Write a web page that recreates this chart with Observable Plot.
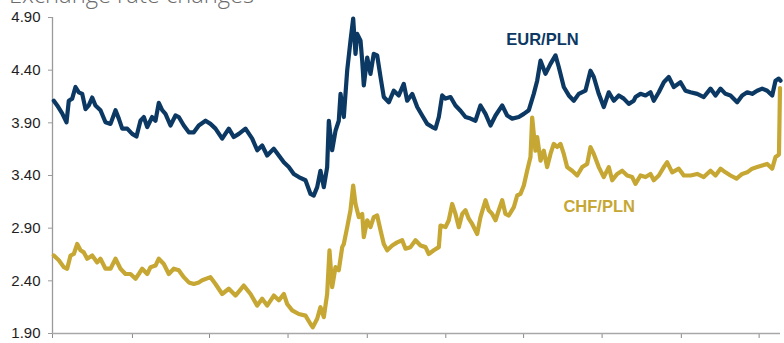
<!DOCTYPE html>
<html><head><meta charset="utf-8">
<script src="https://cdn.jsdelivr.net/npm/d3@7"></script>
<script src="https://cdn.jsdelivr.net/npm/@observablehq/plot@0.6"></script>
<style>
body{margin:0;background:#fff;}
#wrap{position:relative;width:784px;height:343px;overflow:hidden;background:#fff;}
#title{position:absolute;z-index:2;left:9px;top:-17.5px;font-family:"Open Sans",sans-serif;font-weight:300;font-size:23.7px;line-height:23.7px;color:#6b6b6b;white-space:nowrap;}
#chart{position:absolute;z-index:1;left:0;top:0;}
</style></head><body>
<div id="wrap"><div id="title">Exchange rate changes</div><div id="chart"></div></div>
<script>
const seriesNames = ["EUR/PLN", "CHF/PLN"];
const eurYears = [2005.018,2005.065,2005.133,2005.193,2005.224,2005.271,2005.316,2005.362,2005.409,2005.454,2005.499,2005.546,2005.591,2005.660,2005.729,2005.798,2005.867,2005.912,2005.959,2006.028,2006.096,2006.155,2006.210,2006.256,2006.303,2006.371,2006.417,2006.462,2006.509,2006.554,2006.623,2006.692,2006.737,2006.806,2006.875,2006.944,2007.012,2007.105,2007.173,2007.242,2007.334,2007.425,2007.494,2007.563,2007.655,2007.747,2007.816,2007.884,2007.953,2008.044,2008.113,2008.182,2008.250,2008.319,2008.388,2008.480,2008.549,2008.594,2008.641,2008.686,2008.732,2008.778,2008.801,2008.847,2008.893,2008.938,2008.962,2009.007,2009.054,2009.099,2009.136,2009.168,2009.191,2009.237,2009.260,2009.282,2009.329,2009.374,2009.419,2009.466,2009.512,2009.557,2009.626,2009.695,2009.763,2009.832,2009.879,2009.948,2010.017,2010.085,2010.154,2010.223,2010.268,2010.314,2010.360,2010.406,2010.475,2010.543,2010.612,2010.681,2010.750,2010.818,2010.887,2010.956,2011.025,2011.094,2011.186,2011.254,2011.323,2011.414,2011.483,2011.552,2011.620,2011.667,2011.713,2011.781,2011.850,2011.919,2011.964,2012.033,2012.102,2012.171,2012.239,2012.331,2012.400,2012.446,2012.514,2012.583,2012.652,2012.721,2012.790,2012.858,2012.927,2012.996,2013.019,2013.088,2013.157,2013.226,2013.271,2013.340,2013.409,2013.477,2013.546,2013.638,2013.707,2013.776,2013.868,2013.959,2014.051,2014.120,2014.189,2014.257,2014.326,2014.418,2014.487,2014.556,2014.624,2014.693,2014.762,2014.831,2014.900,2014.945,2014.990,2015.014];
const eurValues = [4.11,4.065,3.99,3.905,4.11,4.13,4.24,4.19,4.175,4.03,4.065,4.14,4.065,4.02,3.905,3.89,4.02,3.94,3.845,3.845,3.795,3.77,3.92,3.955,3.86,3.955,3.92,4.09,4.02,3.985,3.875,3.97,3.955,3.875,3.81,3.81,3.875,3.92,3.89,3.845,3.75,3.845,3.765,3.795,3.845,3.75,3.64,3.685,3.59,3.655,3.59,3.525,3.48,3.415,3.385,3.355,3.225,3.21,3.29,3.445,3.29,3.48,3.92,3.64,3.825,3.92,4.175,3.955,4.40,4.68,4.89,4.555,4.745,4.68,4.49,4.255,4.52,4.365,4.555,4.54,4.335,4.145,4.095,4.205,4.16,4.27,4.11,4.175,4.05,3.97,3.89,3.86,3.845,3.955,4.16,4.13,4.145,4.065,4.015,3.955,3.94,3.92,4.065,3.985,3.875,3.97,4.065,3.97,3.94,3.955,3.985,4.02,4.175,4.30,4.49,4.365,4.46,4.54,4.43,4.24,4.16,4.11,4.175,4.205,4.395,4.335,4.175,4.05,4.19,4.11,4.16,4.13,4.08,4.11,4.145,4.175,4.16,4.19,4.11,4.19,4.285,4.335,4.24,4.285,4.205,4.19,4.175,4.145,4.225,4.16,4.225,4.175,4.16,4.095,4.16,4.19,4.175,4.205,4.225,4.205,4.16,4.30,4.32,4.30];
const chfYears = [2005.018,2005.087,2005.155,2005.202,2005.248,2005.293,2005.340,2005.385,2005.431,2005.477,2005.546,2005.615,2005.660,2005.729,2005.798,2005.867,2005.935,2006.004,2006.073,2006.142,2006.187,2006.234,2006.303,2006.348,2006.417,2006.462,2006.531,2006.600,2006.668,2006.737,2006.806,2006.875,2006.944,2007.012,2007.059,2007.173,2007.242,2007.334,2007.425,2007.517,2007.631,2007.724,2007.816,2007.884,2007.953,2008.044,2008.113,2008.182,2008.228,2008.297,2008.388,2008.480,2008.549,2008.580,2008.641,2008.686,2008.732,2008.778,2008.810,2008.847,2008.893,2008.938,2008.985,2009.007,2009.054,2009.099,2009.136,2009.168,2009.213,2009.260,2009.282,2009.329,2009.374,2009.419,2009.466,2009.512,2009.557,2009.604,2009.673,2009.741,2009.810,2009.856,2009.924,2009.993,2010.062,2010.131,2010.176,2010.245,2010.314,2010.337,2010.406,2010.451,2010.498,2010.543,2010.589,2010.636,2010.681,2010.726,2010.773,2010.842,2010.887,2010.956,2011.001,2011.048,2011.094,2011.139,2011.186,2011.231,2011.277,2011.346,2011.392,2011.437,2011.483,2011.529,2011.575,2011.598,2011.643,2011.667,2011.713,2011.758,2011.804,2011.850,2011.895,2011.942,2011.988,2012.033,2012.079,2012.148,2012.217,2012.286,2012.355,2012.400,2012.446,2012.514,2012.583,2012.652,2012.699,2012.768,2012.836,2012.905,2012.974,2013.019,2013.088,2013.157,2013.226,2013.271,2013.340,2013.409,2013.455,2013.524,2013.615,2013.684,2013.776,2013.868,2013.959,2014.051,2014.120,2014.189,2014.257,2014.326,2014.409,2014.487,2014.556,2014.624,2014.693,2014.762,2014.831,2014.900,2014.945,2014.977,2014.993,2015.007];
const chfValues = [2.64,2.595,2.53,2.515,2.64,2.655,2.75,2.69,2.67,2.61,2.64,2.575,2.61,2.515,2.515,2.61,2.515,2.465,2.465,2.42,2.465,2.515,2.465,2.53,2.545,2.61,2.56,2.465,2.515,2.50,2.435,2.385,2.37,2.385,2.405,2.435,2.37,2.275,2.325,2.26,2.355,2.275,2.165,2.23,2.165,2.26,2.215,2.275,2.18,2.12,2.085,2.07,1.99,1.96,2.04,2.15,2.055,2.275,2.69,2.34,2.53,2.50,2.72,2.75,2.91,3.07,3.305,3.13,3.005,3.035,2.815,2.975,2.91,3.005,3.02,2.88,2.75,2.69,2.735,2.765,2.785,2.705,2.72,2.785,2.735,2.72,2.655,2.69,2.72,2.925,2.91,2.975,3.13,3.035,2.91,3.035,3.07,2.99,2.94,2.845,3.005,3.165,3.07,3.035,2.975,3.07,3.165,3.035,3.02,3.10,3.21,3.225,3.305,3.445,3.575,3.95,3.635,3.765,3.54,3.635,3.48,3.605,3.70,3.67,3.70,3.605,3.48,3.445,3.40,3.48,3.51,3.67,3.605,3.48,3.385,3.48,3.355,3.415,3.445,3.40,3.385,3.32,3.40,3.385,3.415,3.355,3.40,3.48,3.525,3.43,3.465,3.40,3.40,3.415,3.385,3.445,3.40,3.465,3.43,3.40,3.37,3.415,3.43,3.465,3.48,3.495,3.51,3.465,3.575,3.59,3.60,4.23];
const xTicks = [2005, 2006.10, 2007.16, 2008.24, 2009.33, 2010.41, 2011.48, 2012.56, 2013.65, 2014.72];
const yTicks = [1.90, 2.40, 2.90, 3.40, 3.90, 4.40, 4.90];

const eur = eurYears.map((t, i) => ({t, v: eurValues[i], s: seriesNames[0]}));
const chf = chfYears.map((t, i) => ({t, v: chfValues[i], s: seriesNames[1]}));
const navy = "#0c3963", gold = "#c6a733";

const chart = Plot.plot({
  width: 784, height: 343,
  marginTop: 17, marginBottom: 10, marginLeft: 52, marginRight: 4,
  style: {fontFamily: "'Liberation Sans', Arial, sans-serif", background: "transparent"},
  x: {domain: [2005, 2015.014]},
  y: {domain: [1.9, 4.9]},
  marks: [
    Plot.axisY(yTicks, {tickSize: 4, tickPadding: 8, tickFormat: d3.format(".2f"), fontSize: 15, fill: "#1e1e1e", stroke: "#9a9a9a", label: null}),
    Plot.axisX(xTicks, {tickSize: 5, tickFormat: () => "", stroke: "#8a8a8a", label: null}),
    Plot.ruleX([2005], {stroke: "#9a9a9a", strokeWidth: 1.3}),
    Plot.ruleY([1.9], {stroke: "#a8a8a8", strokeWidth: 1.5}),
    Plot.line(chf, {x: "t", y: "v", stroke: gold, strokeWidth: 4.2, strokeLinejoin: "round"}),
    Plot.line(eur, {x: "t", y: "v", stroke: navy, strokeWidth: 4.2, strokeLinejoin: "round"}),
    Plot.text([seriesNames[0]], {x: 2011.74, y: 4.686, text: d => d, fill: navy, fontSize: 16.5, fontWeight: "bold"}),
    Plot.text([seriesNames[1]], {x: 2012.52, y: 3.108, text: d => d, fill: gold, fontSize: 16.5, fontWeight: "bold"})
  ]
});
document.getElementById("chart").appendChild(chart);
</script>
</body></html>
